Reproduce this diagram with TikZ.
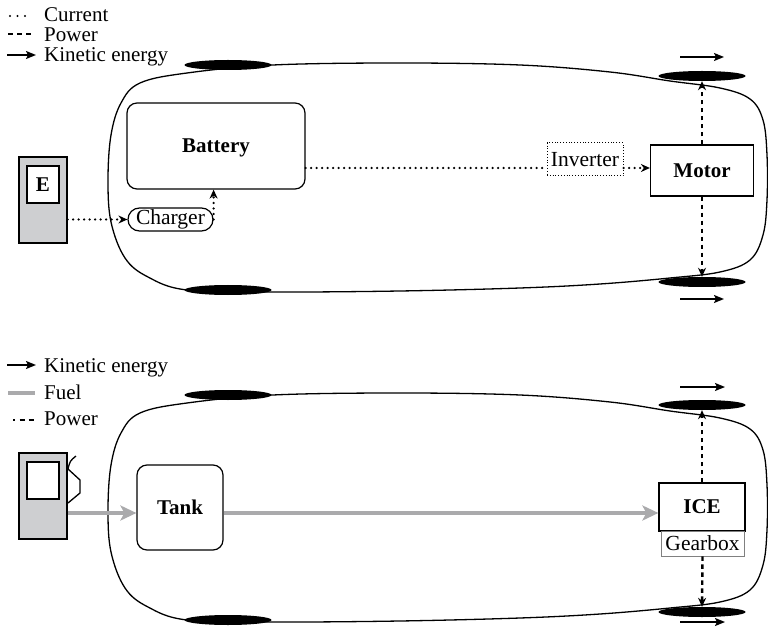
\documentclass[tikz,border=0pt]{standalone}
\usepackage{fontspec}
\setmainfont{Liberation Serif}
\usetikzlibrary{arrows.meta,calc,shapes.geometric}
\definecolor{fuelgray}{RGB}{170,170,172}
\definecolor{pumpgray}{RGB}{206,207,209}
\begin{document}
\begin{tikzpicture}[x=1pt,y=-1pt,
  txt/.style={font=\fontsize{21.5}{25}\selectfont, inner sep=0pt},
  legtxt/.style={font=\fontsize{21}{24}\selectfont, inner sep=0pt, anchor=base west, text height=13pt, text depth=0pt},
  boldtxt/.style={font=\fontsize{21}{25}\selectfont\bfseries},
  unit/.style={draw, line width=1.2pt, inner sep=0pt, align=center, boldtxt},
  roundunit/.style={unit, rounded corners=10pt},
  wheel/.style={ellipse, fill=black, draw=none, inner sep=0pt, minimum width=87pt, minimum height=10pt},
  body/.style={line width=1.3pt},
  dots/.style={line width=2.5pt, line cap=round, dash pattern=on 0pt off 5.5pt},
  current/.style={dots, -{Stealth[length=9pt,width=8pt]}},
  power/.style={line width=2.4pt, dash pattern=on 4.5pt off 3.5pt, -{Stealth[length=9pt,width=8pt]}},
  kinetic/.style={line width=1.6pt, -{Stealth[length=10pt,width=8pt,inset=2pt]}},
  fuel/.style={line width=4pt, draw=fuelgray, -{Stealth[length=16pt,width=15pt,inset=4pt,fill=fuelgray]}},
  pump/.style={draw, line width=1.3pt, fill=pumpgray, minimum width=48pt, minimum height=86pt, inner sep=0pt},
  window/.style={draw, line width=1.3pt, fill=white, minimum width=32pt, minimum height=37pt, inner sep=0pt, boldtxt}
]
\useasboundingbox (0,0) rectangle (768,628);

% ---------- legend, electric vehicle ----------
\coordinate (l1a) at (10,16);  \coordinate (l1b) at (26,16);
\coordinate (l2a) at (8,34);  \coordinate (l2b) at (32,34);
\coordinate (l3a) at (7,55);  \coordinate (l3b) at (36,55);
\draw[line width=2.2pt, line cap=round, dash pattern=on 0pt off 7.5pt] (l1a) -- (l1b);
\draw[line width=2.2pt, dash pattern=on 5pt off 4pt] (l2a) -- (l2b);
\draw[kinetic] (l3a) -- (l3b);
\node[legtxt] (lt1) at (44,21.5) {Current};
\node[legtxt] (lt2) at (44,42) {Power};
\node[legtxt] (lt3) at (44,62) {Kinetic energy};

% ---------- car outlines ----------
\foreach \dy in {0,330}{
  \begin{scope}[shift={(0,\dy)}]
    \draw[body] plot[smooth cycle, tension=0.6] coordinates {
      (187,73) (273,65) (400,63) (520,65) (610,72) (670,81) (720,88)
      (750,99) (763,120) (767,155) (767,200) (763,235) (750,260)
      (720,272) (670,278) (600,284) (520,288) (400,291) (273,292)
      (187,290) (148,277) (125,258) (111,222) (108,180) (111,135)
      (121,103) (140,83)};
  \end{scope}
}

% ---------- wheels ----------
\node[wheel] (w1tl) at (228,65) {};
\node[wheel] (w1bl) at (228,290) {};
\node[wheel] (w1tr) at (702,76) {};
\node[wheel] (w1br) at (702,282) {};
\node[wheel] (w2tl) at (228,395) {};
\node[wheel] (w2bl) at (228,620) {};
\node[wheel] (w2tr) at (702,405) {};
\node[wheel] (w2br) at (702,612) {};

% ---------- electric drive train ----------
\node[pump] (epump) at (43,200) {};
\node[window] (ewin) at (43,184.5) {E};
\node[roundunit, minimum width=178pt, minimum height=86pt] (battery) at (216,146) {};
\node[boldtxt] (batlabel) at (216,148) {Battery};
\node[draw, line width=1.2pt, rounded corners=11.5pt, minimum width=85pt, minimum height=23pt, inner sep=0pt, txt] (charger) at (170.5,219.5) {Charger};
\node[draw, line width=1pt, dash pattern=on 1pt off 1.8pt, minimum width=76pt, minimum height=33pt, inner sep=0pt, txt] (inverter) at (585,159.5) {Inverter};
\node[unit, minimum width=103pt, minimum height=51pt] (motor) at (702,170.5) {Motor};
\coordinate (bus) at (0,168);

\draw[current] (epump.east |- charger) -- (charger.west);
\draw[current] (charger.east) -- (charger.east |- battery.south);
\draw[dots] (battery.east |- bus) -- (inverter.west |- bus);
\draw[current] (inverter.east |- bus) -- (motor.west |- bus);
\draw[power] (motor.north) -- (w1tr.south);
\draw[power] (motor.south) -- (w1br.north);

\coordinate (k1a) at (680,57);  \coordinate (k1b) at (724,57);
\coordinate (k2a) at (680,299); \coordinate (k2b) at (724,299);
\draw[kinetic] (k1a) -- (k1b);
\draw[kinetic] (k2a) -- (k2b);

% ---------- legend, combustion vehicle ----------
\coordinate (m1a) at (7,365);   \coordinate (m1b) at (36,365);
\coordinate (m2a) at (8,393);   \coordinate (m2b) at (35,393);
\coordinate (m3a) at (13,420);  \coordinate (m3b) at (35,420);
\draw[kinetic] (m1a) -- (m1b);
\draw[line width=3.5pt, draw=fuelgray] (m2a) -- (m2b);
\draw[line width=2.2pt, dash pattern=on 1.6pt off 5pt on 5pt off 4pt on 5pt off 4pt] (m3a) -- (m3b);
\node[legtxt] (mt1) at (44,372) {Kinetic energy};
\node[legtxt] (mt2) at (44,399) {Fuel};
\node[legtxt] (mt3) at (44,425) {Power};

% ---------- combustion drive train ----------
\node[pump] (fpump) at (43,496) {};
\node[window] (fwin) at (43,480.5) {};
\draw[line width=1.3pt, line join=miter] (76,456) .. controls (70,461) .. (68,469)
  -- (80,480) -- (80,493) -- (68,503);
\node[roundunit, minimum width=86pt, minimum height=85pt] (tank) at (180,507.5) {Tank};
\node[unit, minimum width=86pt, minimum height=48pt] (ice) at (702,507) {ICE};
\node[draw=gray, line width=0.8pt, minimum width=83pt, minimum height=25pt, inner sep=0pt, txt] (gearbox) at (702.5,543.5) {Gearbox};
\coordinate (fline) at (0,513);

\draw[fuel] (fpump.east |- fline) -- (tank.west |- fline);
\draw[fuel] (tank.east |- fline) -- (ice.west |- fline);
\draw[power] (ice.north) -- (w2tr.south);
\draw[power] (gearbox.south) -- (w2br.north);

\coordinate (k3a) at (680,387); \coordinate (k3b) at (725,387);
\coordinate (k4a) at (680,622); \coordinate (k4b) at (725,622);
\draw[kinetic] (k3a) -- (k3b);
\draw[kinetic] (k4a) -- (k4b);
\end{tikzpicture}
\end{document}
